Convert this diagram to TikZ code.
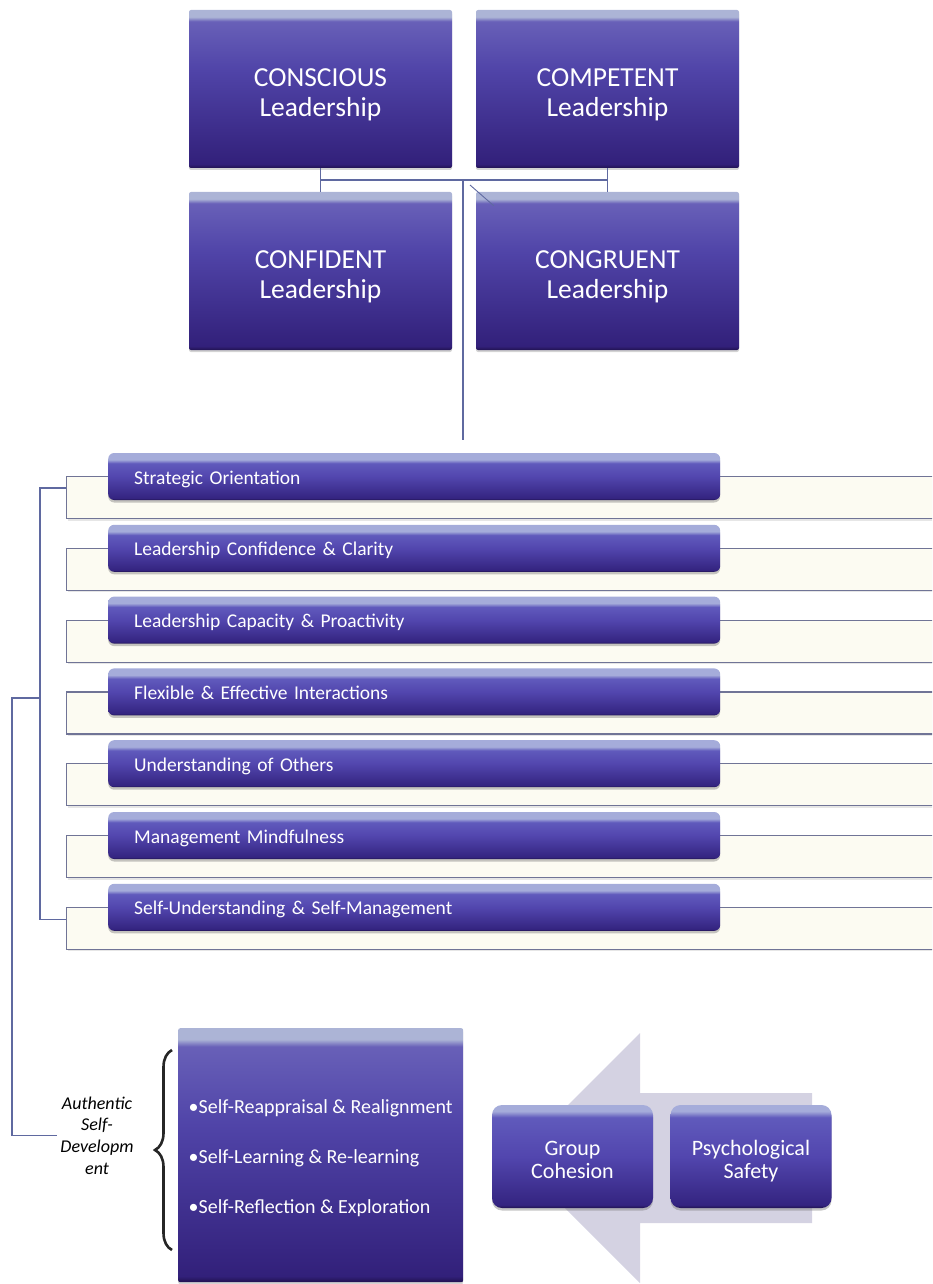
\documentclass[tikz,border=0pt]{standalone}
\usepackage{fontspec}
\setmainfont{Carlito}
\usetikzlibrary{shadows,decorations.pathreplacing,calc}

\definecolor{phi}{RGB}{172,180,214}
\definecolor{ptop}{RGB}{104,96,184}
\definecolor{pmid}{RGB}{80,68,168}
\definecolor{pbot}{RGB}{50,32,122}
\definecolor{pdark}{RGB}{32,18,80}
\definecolor{bhi}{RGB}{165,172,218}
\definecolor{btop}{RGB}{96,90,188}
\definecolor{bmid}{RGB}{82,70,174}
\definecolor{bbot}{RGB}{52,36,128}
\definecolor{linec}{RGB}{95,105,160}
\definecolor{panelfill}{RGB}{252,251,242}
\definecolor{panelline}{RGB}{112,116,150}
\definecolor{arrowc}{RGB}{212,210,226}

\pgfdeclareverticalshading{boxshade}{100bp}{color(0bp)=(pdark); color(25bp)=(pdark); color(26.2bp)=(pbot); color(56bp)=(pmid); color(71.4bp)=(ptop); color(72.8bp)=(phi); color(75bp)=(phi); color(100bp)=(phi)}
\pgfdeclareverticalshading{barshade}{100bp}{color(0bp)=(pdark); color(25bp)=(pdark); color(27bp)=(bbot); color(50bp)=(bmid); color(64bp)=(btop); color(68bp)=(bhi); color(75bp)=(bhi); color(100bp)=(bhi)}
\pgfdeclareverticalshading{pillshade}{100bp}{color(0bp)=(pdark); color(25bp)=(pdark); color(26.5bp)=(bbot); color(50bp)=(bmid); color(69bp)=(btop); color(72bp)=(bhi); color(75bp)=(bhi); color(100bp)=(bhi)}

\newcommand\cstack[1]{\begin{tabular}{@{}c@{}}#1\end{tabular}}
\newcommand\lstack[1]{\begin{tabular}{@{}l@{}}#1\end{tabular}}

\begin{document}
\begin{tikzpicture}[x=1pt,y=-1pt,
  bigbox/.style={shade, shading=boxshade, rounded corners=2pt, minimum width=263pt, minimum height=158pt,
    inner sep=0pt, text=white, font=\fontsize{27.5}{30}\selectfont, text height=43pt, text depth=17pt,
    drop shadow={shadow xshift=0pt, shadow yshift=-2pt, opacity=0.35}},
  barbox/.style={shade, shading=barshade, rounded corners=6pt, minimum height=47pt, inner xsep=26pt, inner ysep=0pt,
    text width=560pt, align=left, text=white, font=\fontsize{19.5}{21}\selectfont, text height=15pt, text depth=0pt,
    drop shadow={shadow xshift=0pt, shadow yshift=-2.5pt, opacity=0.45}},
  panel/.style={draw=panelline, line width=1.1pt, fill=panelfill, minimum width=900pt, minimum height=42pt, inner sep=0pt,
    drop shadow={shadow xshift=1pt, shadow yshift=-2pt, opacity=0.2}},
  pill/.style={shade, shading=pillshade, rounded corners=10pt, minimum width=161pt, minimum height=103pt, inner sep=0pt,
    text=white, font=\fontsize{22}{23}\selectfont, text height=34pt, text depth=12pt,
    drop shadow={shadow xshift=0pt, shadow yshift=-2.5pt, opacity=0.45}},
  conn/.style={draw=linec, line width=1.2pt},
  bracec/.style={draw=black!85, line width=2.6pt, decorate, decoration={brace, amplitude=17pt}}
]
\useasboundingbox (0,0) rectangle (932,1284);
\clip (0,0) rectangle (932,1284);

% top quadrant boxes
\node[bigbox] (conscious) at (320.5,89) {\cstack{CONSCIOUS\\Leadership}};
\node[bigbox] (competent) at (607.5,89) {\cstack{COMPETENT\\Leadership}};
\node[bigbox] (confident) at (320.5,271) {\cstack{CONFIDENT\\Leadership}};
\node[bigbox] (congruent) at (607.5,271) {\cstack{CONGRUENT\\Leadership}};

\coordinate (hub) at (463,180);
\coordinate (hubend) at (463,440);
\draw[conn] (conscious.south) -- (confident.north);
\draw[conn] (competent.south) -- (congruent.north);
\draw[conn] (conscious.south |- hub) -- (competent.south |- hub);
\draw[conn] (hub) -- (hubend);
\draw[conn, line width=0.9pt] ([shift={(7,5)}]hub) -- ([shift={(18,14)}]congruent.north west);

% panels and bars
\foreach \t [count=\i] in {Strategic Orientation, Leadership Confidence \& Clarity, Leadership Capacity \& Proactivity,
  Flexible \& Effective Interactions, Understanding of Others, Management Mindfulness, Self-Understanding \& Self-Management}{
  \pgfmathsetmacro\yy{476+71.8*(\i-1)}
  \node[panel, anchor=north west] (p\i) at (66,\yy) {};
}
\foreach \t [count=\i] in {Strategic Orientation, Leadership Confidence \& Clarity, Leadership Capacity \& Proactivity,
  Flexible \& Effective Interactions, Understanding of Others, Management Mindfulness, Self-Understanding \& Self-Management}{
  \pgfmathsetmacro\yy{476.5+71.8*(\i-1)}
  \node[barbox, anchor=west] (s\i) at (108,\yy) {\t};
}

% left brackets
\draw[conn] ([yshift=-12pt]p1.north west) -- ++(-26,0) |- ([yshift=-13pt]p7.north west);
\coordinate (bmid) at (40,698);

% authentic self-development
\node[font=\itshape\fontsize{18}{21.7}\selectfont, align=center, inner sep=3pt] (asd) at (97,1135.5) {Authentic\\Self-\\Developm\\ent};
\draw[conn] (bmid) -- (12,698) |- (asd.west);

\node[shade, shading=boxshade, rounded corners=2pt, minimum width=285pt, minimum height=254pt, anchor=north west,
  inner sep=0pt, text=white, font=\fontsize{20}{50}\selectfont, text height=78pt, text depth=72pt,
  drop shadow={shadow xshift=0pt, shadow yshift=-2pt, opacity=0.35}] (sd) at (178,1028)
  {\lstack{•Self-Reappraisal \& Realignment\\•Self-Learning \& Re-learning\\•Self-Reflection \& Exploration}};

\coordinate (brtop) at (172,1050);
\coordinate (brbot) at (172,1250);
\draw[bracec] (brbot) -- (brtop);

% arrow with group cohesion and psychological safety
\fill[arrowc] (515,1158) -- (640,1033) -- (640,1093) -- (812,1093) -- (812,1223) -- (640,1223) -- (640,1283) -- cycle;
\node[pill] (gc) at (572.5,1156.5) {\cstack{Group\\Cohesion}};
\node[pill] (ps) at (751,1156.5) {\cstack{Psychological\\Safety}};
\end{tikzpicture}
\end{document}
